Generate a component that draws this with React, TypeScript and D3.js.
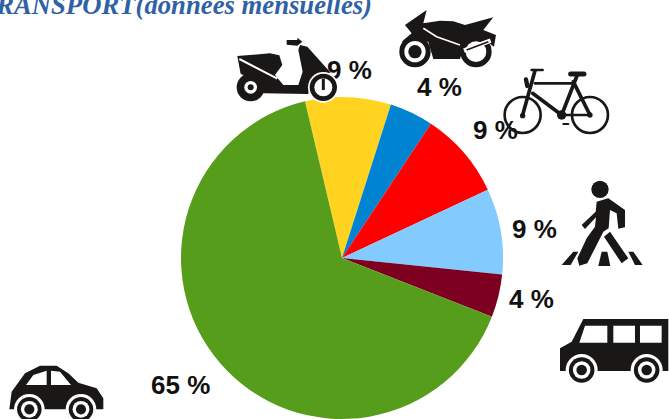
import React from "react";
import * as d3 from "d3";

const modes = ["Scooter", "Moto", "Vélo", "Marche", "Bus", "Voiture"];
const shares = [8.6, 4.4, 8.7, 8.6, 4.3, 65.3];
const colors = ["#FFD320", "#0084D1", "#FF0000", "#83CAFF", "#7E0021", "#579D1C"];
const labels = ["9 %", "4 %", "9 %", "9 %", "4 %", "65 %"];
const labelX = [327, 417, 473, 512, 509, 151];
const labelY = [79, 96, 139, 238, 308, 394];
const title = "TRANSPORT(données mensuelles)";

const ink = "#1a1717";

function Wheel({ x, y, r }: { x: number; y: number; r: number }) {
  return (
    <g>
      <circle cx={x} cy={y} r={r} fill="#fff" />
      <circle cx={x} cy={y} r={r * 0.8} fill={ink} />
      <circle cx={x} cy={y} r={r * 0.55} fill="#fff" />
      <circle cx={x} cy={y} r={r * 0.33} fill={ink} />
    </g>
  );
}

function Scooter() {
  return (
    <g transform="translate(220,0) scale(0.3333)">
      <path fill={ink} d="M52,168 L150,160 L178,166 L187,195 L165,225 L190,255 L235,255 L248,215 L235,150 L240,135 L262,140 L332,218 L295,222 L268,255 L265,282 L130,280 L115,240 L62,222 Z" />
      <path fill={ink} d="M200,120 L232,120 L232,113 L247,125 L232,137 L200,134 Z" />
      <path stroke="#fff" strokeWidth={6} fill="none" d="M58,177 L172,236" />
      <circle cx={92} cy={262} r={42} fill={ink} />
      <circle cx={92} cy={262} r={19} fill="#fff" />
      <circle cx={92} cy={262} r={9} fill={ink} />
      <circle cx={310} cy={262} r={46} fill="#fff" />
      <circle cx={310} cy={262} r={41} fill={ink} />
      <circle cx={310} cy={262} r={27} fill="#fff" />
      <path stroke={ink} strokeWidth={9} d="M310,236 L310,270" />
    </g>
  );
}

function Moto() {
  return (
    <g transform="translate(220,0) scale(0.3333)">
      <path fill={ink} d="M555,75 L620,30 L610,70 L660,62 L700,64 L735,75 L820,52 L790,90 L828,105 L822,140 L780,110 L735,130 L720,177 L640,177 L625,125 L545,125 L575,100 Z" />
      <path stroke="#fff" strokeWidth={5} fill="none" d="M610,85 L650,110 L720,135" />
      <circle cx={585} cy={155} r={47} fill={ink} />
      <circle cx={585} cy={155} r={32} fill="#fff" />
      <circle cx={585} cy={155} r={20} fill={ink} />
      <circle cx={768} cy={155} r={47} fill={ink} />
      <circle cx={768} cy={155} r={31} fill="#fff" />
      <path stroke="#fff" strokeWidth={14} d="M732,152 L812,122" />
      <path stroke={ink} strokeWidth={5} d="M740,150 L805,125" />
    </g>
  );
}

function Bike() {
  return (
    <g transform="translate(220,0) scale(0.3333)" fill="none" stroke={ink} strokeLinecap="round">
      <circle cx={908} cy={345} r={54} strokeWidth={8} />
      <circle cx={1110} cy={345} r={54} strokeWidth={8} />
      <g strokeWidth={11}>
        <path d="M908,345 L945,212" />
        <path d="M945,250 L1060,250" strokeWidth={8} />
        <path d="M938,280 L1025,345" />
        <path d="M1025,345 L1072,225" />
        <path d="M1060,245 L1110,345" />
        <path d="M1025,345 L1110,345" strokeWidth={8} />
        <path d="M1052,222 L1092,222" strokeWidth={15} />
        <path d="M935,210 L968,210" strokeWidth={8} />
        <path d="M918,238 L922,258" strokeWidth={13} />
        <path d="M1030,372 L1045,372" strokeWidth={6} />
      </g>
      <circle cx={1025} cy={345} r={14} fill={ink} stroke="none" />
      <circle cx={908} cy={347} r={8} fill={ink} stroke="none" />
      <circle cx={1110} cy={345} r={8} fill={ink} stroke="none" />
    </g>
  );
}

function Pedestrian() {
  return (
    <g transform="translate(500,170) scale(0.3333)" fill={ink}>
      <circle cx={300} cy={58} r={26} />
      <path d="M290,95 L325,85 L375,120 L375,172 L355,176 L350,130 L330,120 L326,175 L310,185 L262,280 L238,287 L232,265 L260,205 L285,170 L288,142 L255,177 L245,165 L287,125 Z" />
      <path d="M312,200 L330,185 L385,265 L365,280 Z" />
      <path d="M220,245 L235,245 L212,285 L185,285 Z" />
      <path d="M305,245 L322,245 L331,288 L295,288 Z" />
      <path d="M385,245 L400,245 L428,285 L405,285 Z" />
    </g>
  );
}

function Van() {
  return (
    <g transform="translate(500,170) scale(0.3333)">
      <path fill={ink} d="M250,447 L505,447 L505,603 L180,603 L180,535 L215,515 Z" />
      <path fill="#fff" d="M255,467 L322,467 L322,518 L238,518 Z M340,467 L405,467 L405,518 L340,518 Z M420,467 L485,467 L485,518 L420,518 Z" />
      <Wheel x={245} y={600} r={48} />
      <Wheel x={440} y={600} r={48} />
    </g>
  );
}

function Car() {
  return (
    <g transform="translate(0,350) scale(0.3333)">
      <path fill={ink} d="M28,178 L35,125 L75,70 L120,47 L170,47 L205,70 L235,98 L290,115 L310,145 L310,178 Z" />
      <path fill="#fff" d="M78,105 L100,75 L140,62 L140,105 Z M153,62 L180,65 L213,105 L153,105 Z" />
      <Wheel x={88} y={178} r={46} />
      <Wheel x={243} y={178} r={46} />
    </g>
  );
}

export default function App() {
  const cx = 342;
  const cy = 258;
  const radius = 161;
  const startDeg = -13.3;
  const start = (startDeg * Math.PI) / 180;
  const pie = d3
    .pie<number>()
    .sort(null)
    .startAngle(start)
    .endAngle(start + Math.PI * 2);
  const arc = d3.arc<d3.PieArcDatum<number>>().innerRadius(0).outerRadius(radius);
  const slices = pie(shares);
  return (
    <svg
      width={669}
      height={419}
      viewBox="0 0 669 419"
      style={{ position: "absolute", left: 0, top: 0, background: "#fff", display: "block" }}
    >
      <text
        x={372}
        y={14}
        textAnchor="end"
        fontFamily="'Liberation Serif', serif"
        fontWeight="bold"
        fontStyle="italic"
        fontSize={26.7}
        fill="#2f62a5"
      >
        {title}
      </text>
      <g transform={`translate(${cx},${cy})`}>
        {slices.map((s, i) => (
          <path key={modes[i]} d={arc(s) ?? ""} fill={colors[i]} />
        ))}
      </g>
      {labels.map((l, i) => (
        <text
          key={modes[i]}
          x={labelX[i]}
          y={labelY[i]}
          fontFamily="'Liberation Sans', sans-serif"
          fontWeight="bold"
          fontSize={26}
          fill="#111"
        >
          {l}
        </text>
      ))}
      <Scooter />
      <Moto />
      <Bike />
      <Pedestrian />
      <Van />
      <Car />
    </svg>
  );
}
